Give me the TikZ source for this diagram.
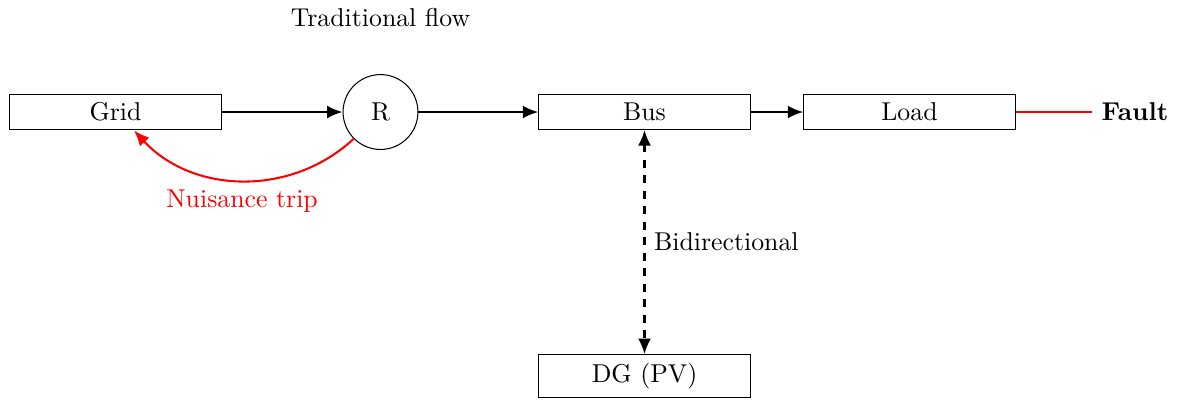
\documentclass[tikz,border=0pt]{standalone}
\usetikzlibrary{arrows.meta}
\begin{document}
\begin{tikzpicture}[
  blockbox/.style={draw, rectangle, minimum width=2.88cm, inner sep=3.33pt},
  relaybox/.style={draw, circle, minimum size=1.02cm, inner sep=0pt},
  flowarrow/.style={thick, -{Latex[length=6pt,width=5pt]}},
  faultline/.style={thick, red},
  tripline/.style={thick, red, -{Latex[length=6pt,width=5pt]}},
  linkline/.style={thick, dashed, {Latex[length=6pt,width=5pt]}-{Latex[length=6pt,width=5pt]}}
]
\useasboundingbox (0,0) rectangle (16.172,-5.463);

\node[blockbox] (grid) at (1.574,-1.526) {Grid};
\node[relaybox] (relay) at (5.184,-1.526) {R};
\node[blockbox] (bus) at (8.781,-1.526) {Bus};
\node[blockbox] (load) at (12.391,-1.526) {Load};
\node (fault) at (15.463,-1.526) {\textbf{Fault}};
\node[blockbox] (dg) at (8.781,-5.123) {DG (PV)};
\node (trad) at (5.184,-0.238) {Traditional flow};

\draw[flowarrow] (grid) -- (relay);
\draw[flowarrow] (relay) -- (bus);
\draw[flowarrow] (bus) -- (load);
\draw[faultline] (load) -- (fault);
\draw[tripline] (relay) to[bend left=45] node[below, red] {Nuisance trip} (grid);
\draw[linkline] (bus) -- node[right] {Bidirectional} (dg);
\end{tikzpicture}
\end{document}
